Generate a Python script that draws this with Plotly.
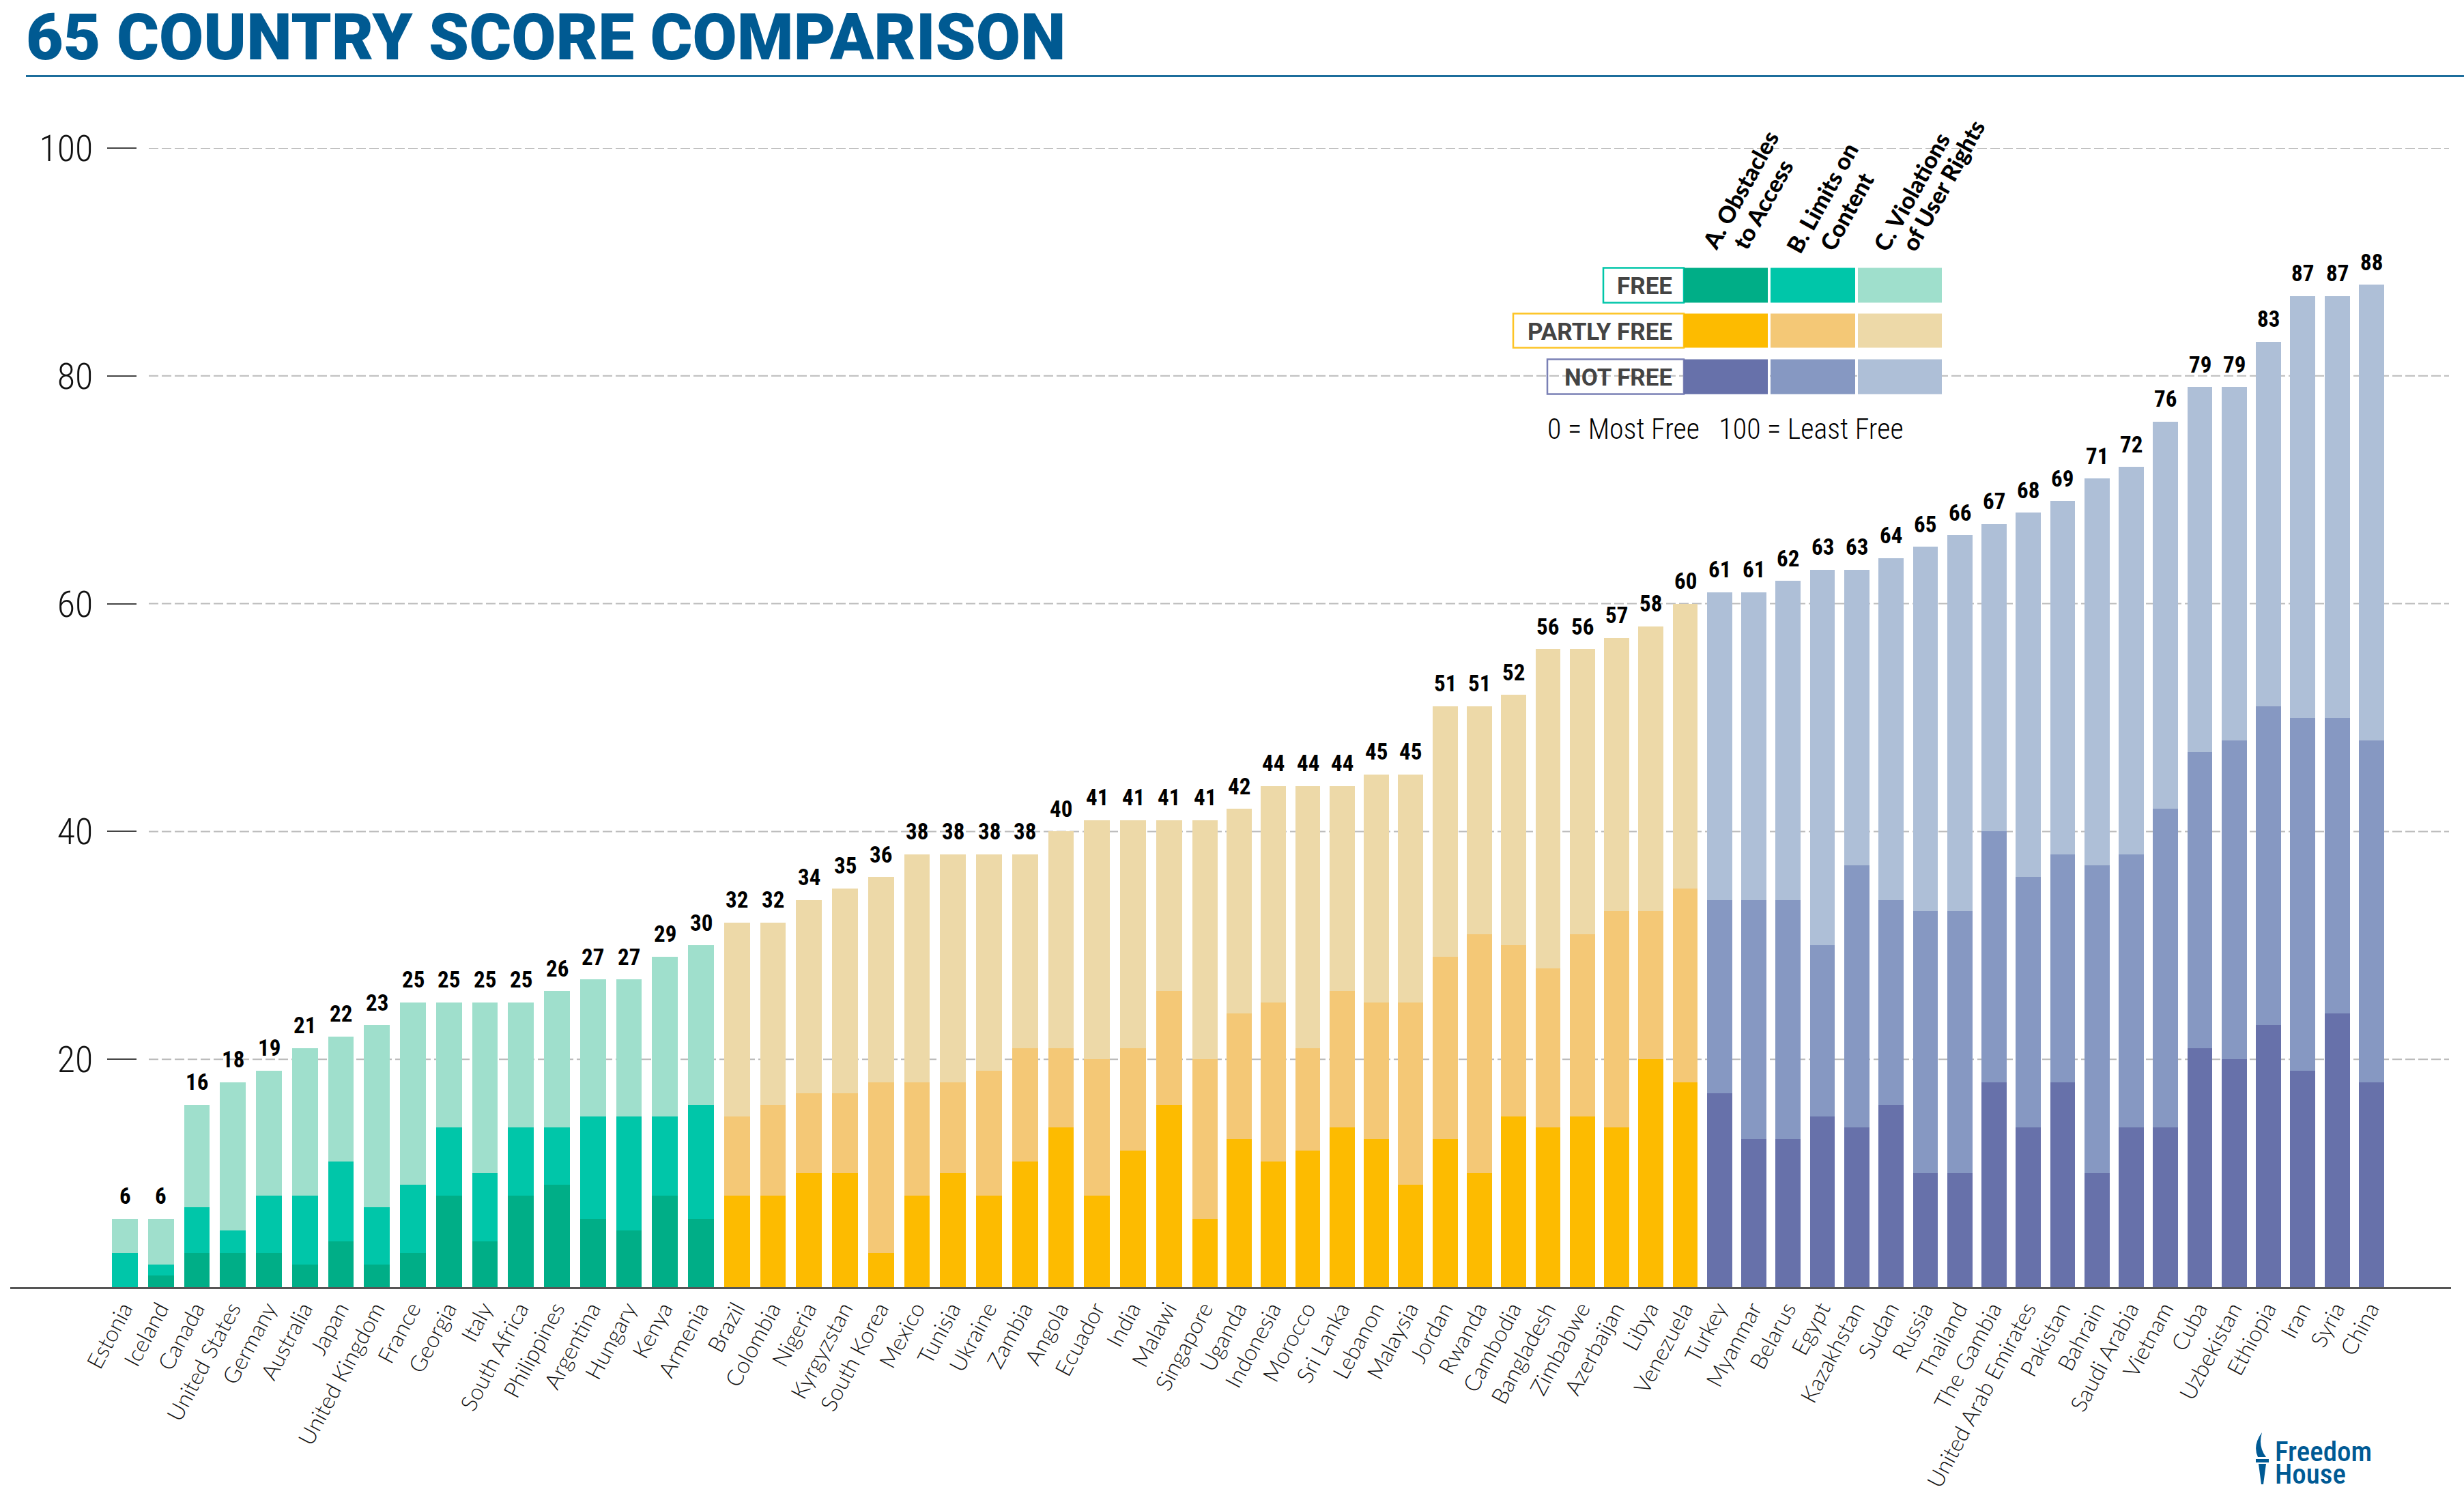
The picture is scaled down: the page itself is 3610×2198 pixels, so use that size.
import plotly.graph_objects as go

W, H = 3610, 2198

countries = ["Estonia","Iceland","Canada","United States","Germany","Australia","Japan","United Kingdom","France","Georgia","Italy","South Africa","Philippines","Argentina","Hungary","Kenya","Armenia",
"Brazil","Colombia","Nigeria","Kyrgyzstan","South Korea","Mexico","Tunisia","Ukraine","Zambia","Angola","Ecuador","India","Malawi","Singapore","Uganda","Indonesia","Morocco","Sri Lanka","Lebanon","Malaysia","Jordan","Rwanda","Cambodia","Bangladesh","Zimbabwe","Azerbaijan","Libya","Venezuela",
"Turkey","Myanmar","Belarus","Egypt","Kazakhstan","Sudan","Russia","Thailand","The Gambia","United Arab Emirates","Pakistan","Bahrain","Saudi Arabia","Vietnam","Cuba","Uzbekistan","Ethiopia","Iran","Syria","China"]
status_counts = [("free", 17), ("partly", 28), ("not", 20)]
score_a = [0,1,3,3,3,2,4,2,3,8,4,8,9,6,5,8,6,
8,8,10,10,3,8,10,8,11,14,8,12,16,6,13,11,12,14,13,9,13,10,15,14,15,14,20,18,
17,13,13,15,14,16,10,10,18,14,18,10,14,14,21,20,23,19,24,18]
score_b = [3,1,4,2,5,6,7,5,6,6,6,6,5,9,10,7,10,
7,8,7,7,15,10,8,11,10,7,12,9,10,14,11,14,9,12,12,16,16,21,15,14,16,19,13,17,
17,21,21,15,23,18,23,23,22,22,20,27,24,28,26,28,28,31,26,30]
score_c = [3,4,9,13,11,13,11,16,16,11,15,11,12,12,12,14,14,
17,16,17,18,18,20,20,19,17,19,21,20,15,21,18,19,23,18,20,20,22,20,22,28,25,24,25,25,
27,27,28,33,26,30,32,33,27,32,31,34,34,34,32,31,32,37,37,40]
totals = [6,6,16,18,19,21,22,23,25,25,25,25,26,27,27,29,30,
32,32,34,35,36,38,38,38,38,40,41,41,41,41,42,44,44,44,45,45,51,51,52,56,56,57,58,60,
61,61,62,63,63,64,65,66,67,68,69,71,72,76,79,79,83,87,87,88]
y_ticks = [20, 40, 60, 80, 100]

colors = {
    "free":   ("#00AE87", "#00C6A9", "#9FDFCC"),
    "partly": ("#FDBB00", "#F4C876", "#EDD9A8"),
    "not":    ("#6771AA", "#8698C2", "#AEBFD7"),
}
legend_rows = [("FREE", "free", "#00C6A9", 2349, 392, 443),
               ("PARTLY FREE", "partly", "#FDC425", 2217, 459, 509),
               ("NOT FREE", "not", "#7A80B5", 2267, 526, 577)]
legend_heads = [("A. Obstacles", 2549, 278), ("to Access", 2582, 299),
                ("B. Limits on", 2669, 289), ("Content", 2705, 309),
                ("C. Violations", 2800, 280), ("of User Rights", 2846, 271)]

SANS = "Roboto Condensed, Roboto"
L, R, T, B = 15, 19, 216.5, 312
PW, PH = W - L - R, H - T - B
def px(x): return (x - L) / PW
def py(y): return (H - B - y) / PH

# the x axis runs in page pixels; the bar pitch tightens after the 31st country
x_pos, widths = [], []
for i in range(len(countries)):
    if i < 31:
        x_pos.append(183 + 52.75 * i); widths.append(37.8)
    else:
        x_pos.append(1815.5 + 50.27 * (i - 31)); widths.append(36.8)

def col_list(idx):
    out = []
    for key, n in status_counts:
        out += [colors[key][idx]] * n
    return out

fig = go.Figure()
for name, vals, idx in [("A. Obstacles to Access", score_a, 0),
                        ("B. Limits on Content", score_b, 1),
                        ("C. Violations of User Rights", score_c, 2)]:
    fig.add_bar(x=x_pos, y=vals, width=widths, name=name, customdata=countries,
                marker=dict(color=col_list(idx), line_width=0))

shapes, ann = [], []
for x, t in zip(x_pos, totals):
    ann.append(dict(text=f"<b>{t}</b>", x=x, y=t, xref="x", yref="y", yshift=33, xanchor="center", yanchor="middle",
                    showarrow=False, font=dict(family=SANS, size=33, color="#000000")))
for v in y_ticks:
    shapes.append(dict(type="line", xref="paper", yref="y", x0=px(218), x1=px(3588), y0=v, y1=v,
                       line=dict(color="#BBBBBB", width=2, dash="14px,5px"), layer="below"))
shapes.append(dict(type="line", xref="paper", yref="paper", x0=px(38), x1=1.0053, y0=py(111), y1=py(111),
                   line=dict(color="#1C6D9C", width=3)))
sw = [(2467, 2590), (2594, 2718), (2722, 2845)]
for label, key, border, left, y0, y1 in legend_rows:
    shapes.append(dict(type="rect", xref="paper", yref="paper", x0=px(left), x1=px(2467), y0=py(y1), y1=py(y0),
                       line=dict(color=border, width=2.5), fillcolor="rgba(0,0,0,0)"))
    for i, (a, b) in enumerate(sw):
        shapes.append(dict(type="rect", xref="paper", yref="paper", x0=px(a), x1=px(b), y0=py(y1), y1=py(y0),
                           line_width=0, fillcolor=colors[key][i]))
    ann.append(dict(text=f"<b>{label}</b>", xref="paper", yref="paper", x=px(2452), y=py((y0 + y1) / 2 + 2),
                    xanchor="right", yanchor="middle", showarrow=False,
                    font=dict(family="Roboto", size=35, color="#444444")))
for text, cx, cy in legend_heads:
    ann.append(dict(text=text, xref="paper", yref="paper", x=px(cx), y=py(cy), textangle=-61,
                    xanchor="center", yanchor="middle", showarrow=False,
                    font=dict(family="Lato", size=34, color="#000000", weight=900)))
ann.append(dict(text="0 = Most Free   100 = Least Free", xref="paper", yref="paper", x=px(2265), y=py(628),
                xanchor="left", yanchor="middle", showarrow=False,
                font=dict(family=SANS, size=42, color="#000000", weight=300)))
LOGO = "#005A94"
for word, yy in [("Freedom", 2127), ("House", 2160)]:
    ann.append(dict(text=word, xref="paper", yref="paper", x=px(3331), y=py(yy),
                    xanchor="left", yanchor="middle", showarrow=False,
                    font=dict(family=SANS, size=41, color=LOGO, weight=500)))
def p(x, y): return f"{px(x):.5f},{py(y):.5f}"
torch = ("M " + p(3314, 2099) + " Q " + p(3300, 2118) + " " + p(3308, 2135) + " L " + p(3320, 2135)
         + " Q " + p(3308, 2120) + " " + p(3314, 2099) + " Z "
         + "M " + p(3305, 2138) + " L " + p(3324, 2138) + " L " + p(3324, 2143) + " L " + p(3305, 2143) + " Z "
         + "M " + p(3309, 2145) + " L " + p(3320, 2145) + " L " + p(3316, 2175) + " L " + p(3313, 2175) + " Z")
shapes.append(dict(type="path", xref="paper", yref="paper", path=torch, fillcolor=LOGO, line_width=0))

fig.update_layout(
    width=W, height=H, autosize=False,
    margin=dict(l=L, r=R, t=T, b=B, pad=0),
    paper_bgcolor="white", plot_bgcolor="white",
    barmode="stack", showlegend=False,
    title=dict(text="65 COUNTRY SCORE COMPARISON", x=38 / W, xanchor="left", xref="container",
               y=1 - 54 / H, yanchor="middle", yref="container",
               font=dict(family="Roboto", size=94.5, color="#005A92", weight=900)),
    xaxis=dict(range=[L, W - R], tickmode="array", tickvals=x_pos, ticktext=countries,
               tickangle=-62, tickfont=dict(family="Lato", size=33, color="#111111", weight=300),
               showline=True, linecolor="#555555", linewidth=2.5, showgrid=False, ticks="", ticklabelstandoff=-3,
               ticklabelshift=-2, automargin=False, zeroline=False),
    yaxis=dict(range=[0, 100], anchor="free", position=px(200), tickmode="array", tickvals=y_ticks,
               ticks="outside", ticklen=43, tickwidth=2, tickcolor="#444444", showgrid=False, zeroline=False,
               showline=False, tickfont=dict(family=SANS, size=54, color="#111111", weight=300),
               ticklabelstandoff=10, automargin=False),
    shapes=shapes, annotations=ann,
)
fig.write_html("out.html", post_script="document.body.style.margin='0';", config={"displayModeBar": False})
